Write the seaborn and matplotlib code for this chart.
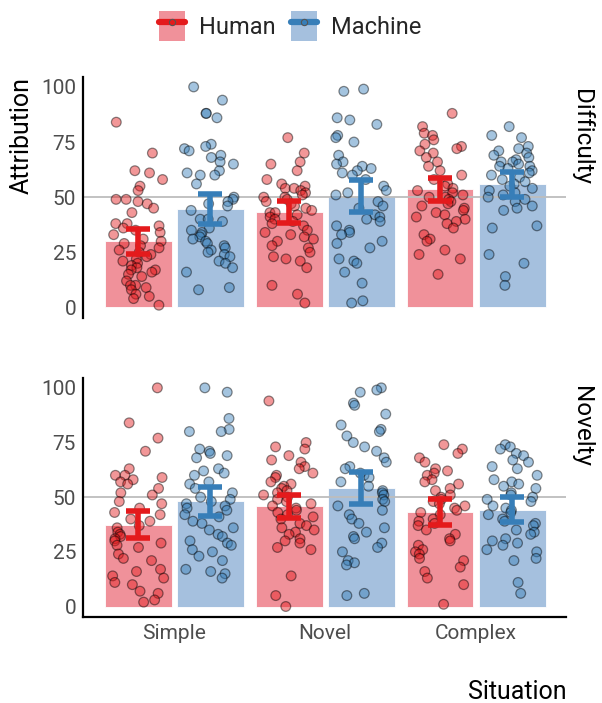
import numpy as np
import pandas as pd
import matplotlib
matplotlib.use("Agg")
import matplotlib.pyplot as plt
import seaborn as sns
from matplotlib.patches import Patch
from matplotlib.lines import Line2D

# ---------------- data ----------------
situations = ["Simple", "Novel", "Complex"]
agents = ["Human", "Machine"]
facets = ["Difficulty", "Novelty"]
yticks = [0, 25, 50, 75, 100]

# bar means (per situation)
diff_mean_human = [30.0, 43.3, 53.5]
diff_mean_machine = [44.8, 50.6, 55.9]
nov_mean_human = [37.5, 45.8, 43.2]
nov_mean_machine = [48.1, 54.2, 44.3]

# error bar half-widths
diff_err_human = [5.6, 5.0, 5.4]
diff_err_machine = [6.8, 7.4, 5.7]
nov_err_human = [6.2, 5.3, 5.9]
nov_err_machine = [6.7, 7.4, 5.6]

# individual responses
diff_simple_human = [84, 70, 62, 61, 58, 55, 53, 49, 49, 48, 47, 45, 43, 38, 38, 37, 36, 35,
                     34, 33, 31, 30, 29, 28, 27, 26, 25, 24, 23, 22, 21, 20, 19, 18, 17, 17,
                     16, 15, 14, 12, 10, 10, 9, 8, 6, 5, 4, 1]
diff_simple_machine = [100, 94, 88, 88, 86, 74, 73, 72, 71, 69, 68, 66, 65, 62, 61, 60, 60, 56,
                       50, 49, 48, 47, 46, 44, 40, 40, 39, 36, 35, 34, 33, 32, 31, 30, 29, 28,
                       27, 26, 25, 24, 23, 21, 20, 18, 16, 9, 8]
diff_novel_human = [77, 70, 66, 65, 62, 58, 56, 55, 54, 54, 53, 52, 51, 50, 50, 49, 48, 47,
                    46, 45, 44, 43, 43, 42, 41, 40, 39, 38, 37, 35, 34, 33, 32, 31, 30, 28,
                    27, 25, 23, 22, 21, 18, 10, 6, 2]
diff_novel_machine = [99, 98, 86, 85, 83, 78, 77, 75, 69, 66, 65, 64, 63, 62, 61, 60, 58, 55,
                      53, 52, 51, 48, 46, 45, 42, 41, 40, 39, 37, 35, 34, 33, 30, 29, 27, 22,
                      21, 20, 16, 11, 3, 2]
diff_complex_human = [88, 82, 79, 78, 76, 74, 73, 72, 71, 70, 68, 66, 64, 62, 60, 58, 56, 55,
                      54, 53, 52, 51, 50, 50, 49, 48, 47, 46, 45, 44, 43, 42, 41, 40, 39, 38,
                      36, 33, 31, 30, 26, 24, 22, 15]
diff_complex_machine = [82, 78, 77, 73, 72, 71, 70, 69, 68, 67, 66, 66, 65, 64, 64, 63, 62, 61,
                        60, 59, 58, 57, 56, 55, 54, 53, 52, 51, 50, 49, 48, 46, 45, 44, 37, 36,
                        24, 20, 14, 10]
nov_simple_human = [100, 84, 77, 71, 63, 60, 60, 59, 58, 57, 56, 54, 52, 51, 48, 47, 45, 43,
                    42, 40, 39, 37, 36, 34, 33, 32, 31, 30, 29, 28, 27, 24, 22, 21, 17, 16,
                    14, 13, 11, 10, 7, 6, 3, 2]
nov_simple_machine = [100, 98, 86, 81, 80, 80, 72, 71, 70, 69, 68, 63, 62, 61, 60, 57, 56, 54,
                      52, 50, 49, 48, 47, 46, 45, 44, 42, 41, 39, 38, 36, 35, 33, 32, 30, 29,
                      28, 26, 25, 23, 21, 17, 16, 15, 13]
nov_novel_human = [94, 75, 73, 72, 69, 67, 66, 64, 63, 61, 60, 59, 57, 56, 55, 54, 53, 52,
                   51, 50, 49, 48, 47, 46, 45, 44, 43, 42, 41, 40, 38, 37, 36, 35, 34, 33,
                   31, 30, 29, 27, 26, 14, 5, 0]
nov_novel_machine = [100, 99, 98, 93, 92, 88, 83, 81, 80, 78, 75, 73, 71, 68, 66, 64, 63, 61,
                     60, 59, 57, 55, 53, 52, 51, 49, 48, 46, 44, 42, 40, 38, 36, 34, 32, 31,
                     29, 27, 25, 21, 20, 19, 6, 5]
nov_complex_human = [74, 72, 70, 68, 66, 63, 62, 61, 60, 58, 57, 56, 54, 53, 51, 50, 49, 48,
                     47, 46, 45, 44, 43, 42, 40, 39, 38, 37, 35, 33, 31, 30, 28, 26, 25, 24,
                     22, 21, 18, 16, 13, 10, 1]
nov_complex_machine = [74, 73, 72, 70, 69, 67, 66, 64, 63, 60, 58, 57, 56, 55, 54, 52, 51, 50,
                       49, 48, 46, 45, 44, 43, 42, 40, 39, 38, 37, 35, 34, 33, 31, 30, 29, 28,
                       26, 25, 22, 21, 11, 6]

# ---------------- styling ----------------
sns.set_theme(style="white")
plt.rcParams["font.family"] = ["Roboto", "DejaVu Sans"]

dark_colors = {"Human": "#E41A1C", "Machine": "#377EB8"}
bar_colors = {"Human": "#F0919A", "Machine": "#A5C0DE"}

np.random.seed(7)

means = {
    "Difficulty": {"Human": diff_mean_human, "Machine": diff_mean_machine},
    "Novelty": {"Human": nov_mean_human, "Machine": nov_mean_machine},
}
errs = {
    "Difficulty": {"Human": diff_err_human, "Machine": diff_err_machine},
    "Novelty": {"Human": nov_err_human, "Machine": nov_err_machine},
}
points = {
    ("Difficulty", "Simple", "Human"): diff_simple_human,
    ("Difficulty", "Simple", "Machine"): diff_simple_machine,
    ("Difficulty", "Novel", "Human"): diff_novel_human,
    ("Difficulty", "Novel", "Machine"): diff_novel_machine,
    ("Difficulty", "Complex", "Human"): diff_complex_human,
    ("Difficulty", "Complex", "Machine"): diff_complex_machine,
    ("Novelty", "Simple", "Human"): nov_simple_human,
    ("Novelty", "Simple", "Machine"): nov_simple_machine,
    ("Novelty", "Novel", "Human"): nov_novel_human,
    ("Novelty", "Novel", "Machine"): nov_novel_machine,
    ("Novelty", "Complex", "Human"): nov_complex_human,
    ("Novelty", "Complex", "Machine"): nov_complex_machine,
}

W, H = 602, 703
fig = plt.figure(figsize=(W / 100, H / 100), dpi=100)
ax1 = fig.add_axes([83 / W, 1 - 318 / H, 483 / W, 241 / H])
ax2 = fig.add_axes([83 / W, 1 - 617 / H, 483 / W, 239 / H])

group_width = 0.954
bar_offset = group_width / 4

for ax, facet in zip([ax1, ax2], facets):
    summ = pd.DataFrame({
        "Situation": situations * 2,
        "Agent": ["Human"] * 3 + ["Machine"] * 3,
        "Attribution": means[facet]["Human"] + means[facet]["Machine"],
    })
    sns.barplot(data=summ, x="Situation", y="Attribution", hue="Agent",
                order=situations, hue_order=agents, palette=bar_colors,
                width=group_width, gap=0.07, errorbar=None, ax=ax,
                legend=False, saturation=1, edgecolor="white", linewidth=0.6,
                zorder=1)
    ax.axhline(50, color="#BDBDBD", lw=1.3, zorder=1.5)

    rows = []
    for (f, s, a), vals in points.items():
        if f != facet:
            continue
        for v in vals:
            rows.append((s, a, v))
    pts = pd.DataFrame(rows, columns=["Situation", "Agent", "Attribution"])
    n_before = len(ax.collections)
    sns.stripplot(data=pts, x="Situation", y="Attribution", hue="Agent",
                  order=situations, hue_order=agents, palette=dark_colors,
                  dodge=True, jitter=0.34, size=7.0, edgecolor="black",
                  linewidth=0.9, alpha=0.45, ax=ax, legend=False, zorder=3)
    # align the dodged strips with the bar centres
    for coll in ax.collections[n_before:]:
        off = coll.get_offsets()
        if len(off) == 0:
            continue
        cx = np.mean(off[:, 0])
        idx = np.round(cx)
        sign = -1 if cx < idx else 1
        off[:, 0] = off[:, 0] + sign * (bar_offset - 0.2)
        coll.set_offsets(off)

    # error bars at bar centres
    for agent, cont in zip(agents, ax.containers):
        xs = [b.get_x() + b.get_width() / 2 for b in cont]
        ys = [b.get_height() for b in cont]
        ax.errorbar(xs, ys, yerr=errs[facet][agent], fmt="none",
                    ecolor=dark_colors[agent], elinewidth=4.0, capsize=8.6,
                    capthick=4.0, zorder=4)

    ax.set_xlim(-0.603, 2.596)
    ax.set_ylim(-4.8, 104.5)
    ax.set_yticks(yticks)
    ax.set_yticklabels([str(t) for t in yticks])
    ax.set_xlabel("")
    ax.set_ylabel("")
    ax.tick_params(axis="both", length=0, labelsize=15, labelcolor="#4D4D4D", pad=5)
    for sp in ["top", "right"]:
        ax.spines[sp].set_visible(False)
    ax.spines["left"].set_color("black")
    ax.spines["left"].set_linewidth(1.6)
    ax.spines["bottom"].set_color("black")
    ax.spines["bottom"].set_linewidth(1.6)
    ax.set_facecolor("white")

ax1.spines["bottom"].set_visible(False)
ax1.set_xticks([])

# facet strip labels
fig.text(582 / W, 1 - 137 / H, "Difficulty", rotation=-90, ha="center",
         va="center", fontsize=17.5, color="black")
fig.text(582 / W, 1 - 427 / H, "Novelty", rotation=-90, ha="center",
         va="center", fontsize=17.5, color="black")

# axis titles
fig.text(22 / W, 1 - 135 / H, "Attribution", rotation=90, ha="center",
         va="center", fontsize=18, color="black")
fig.text(517 / W, 1 - 692 / H, "Situation", ha="center", va="center",
         fontsize=18, color="black")

# legend
handles = []
for agent in agents:
    patch = Patch(facecolor=bar_colors[agent], edgecolor="none")
    line = Line2D([0], [0], color=dark_colors[agent], lw=4.5, marker="o",
                  markersize=4.5, markerfacecolor=dark_colors[agent],
                  markeredgecolor="#555555", markeredgewidth=0.8)
    handles.append((patch, line))
fig.legend(handles, agents, loc="center", bbox_to_anchor=(0.482, 1 - 26 / H),
           ncol=2, frameon=False, fontsize=17, handlelength=1.1,
           handleheight=1.6, handletextpad=0.6, columnspacing=0.65)

fig.savefig("out.png", dpi=100, facecolor="white")
